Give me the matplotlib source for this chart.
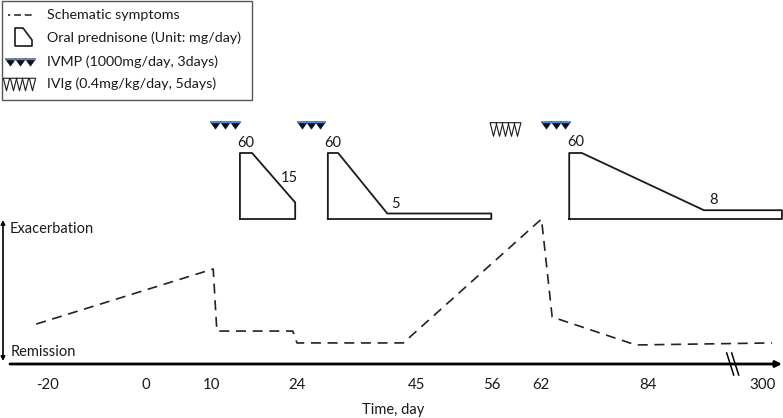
import numpy as np
import matplotlib
matplotlib.use('Agg')
import matplotlib.pyplot as plt
from matplotlib.transforms import Affine2D, blended_transform_factory
from matplotlib.patches import Rectangle, Polygon
from matplotlib.lines import Line2D

plt.rcParams['font.family'] = ['Lato', 'DejaVu Sans']

# ---- data (days on the time axis) ----
tick_days = [-20, 0, 10, 24, 45, 56, 62, 84, 300]
tick_labels = ['-20', '0', '10', '24', '45', '56', '62', '84', '300']

# schematic symptom level (0 = remission line)
symptom_days = [-22.4, 10.2, 10.8, 23.3, 24.0, 42.6, 62.1, 64.3, 81.5, 317]
symptom_level = [2.96, 7.04, 2.44, 2.44, 1.56, 1.56, 10.74, 3.48, 1.41, 1.56]

# oral prednisone courses (mg/day)
pred1_days = [14.6, 14.6, 16.6, 23.7, 23.7]
pred1_dose = [0, 60, 60, 15, 0]
pred2_days = [29.4, 29.4, 31.2, 39.8, 55.9, 55.9]
pred2_dose = [0, 60, 60, 5, 5, 0]
pred3_days = [67.8, 67.8, 70.4, 189, 335.5, 335.5]
pred3_dose = [0, 60, 60, 8, 8, 0]

ivmp_days = [10.5, 12.1, 13.8, 24.8, 26.5, 28.1, 63.1, 65.0, 66.9]
ivig_days = [56.1, 56.9, 57.6, 58.3, 59.1]
break_days = [231.8, 241.2]

# ---- layout ----
W, H = 783, 418
tick_px = [48, 146, 212, 297, 417, 492, 541, 648, 763]  # time axis is not linear
axis_px = 364          # pixel row of the time axis
unit_px = 13.5         # pixels per symptom unit
ink = '#1a1a1a'


def _interp(v, xs, ys):
    v = np.asarray(v, dtype=float)
    flat = np.atleast_1d(v).ravel()
    out = np.interp(flat, xs, ys)
    lo = flat < xs[0]
    hi = flat > xs[-1]
    out[lo] = ys[0] + (flat[lo] - xs[0]) * (ys[1] - ys[0]) / (xs[1] - xs[0])
    out[hi] = ys[-1] + (flat[hi] - xs[-1]) * (ys[-1] - ys[-2]) / (xs[-1] - xs[-2])
    return out.reshape(v.shape)


def fwd(d):
    return _interp(d, tick_days, tick_px)


def inv(p):
    return _interp(p, tick_px, tick_days)


fig = plt.figure(figsize=(W / 100, H / 100), dpi=100)
px = Affine2D().scale(1 / W, -1 / H).translate(0, 1) + fig.transFigure

ax = fig.add_axes([0, 0, 1, 1])
ax.set_xscale('function', functions=(fwd, inv))
ax.set_xlim(float(inv(0)), float(inv(W)))
ax.set_ylim(-(H - axis_px) / unit_px, axis_px / unit_px)
ax.axis('off')
xpx = blended_transform_factory(ax.transData, px)

# prednisone axes
ax2 = fig.add_axes([0, (H - 219) / H, 1, 66 / H])
ax2.set_xscale('function', functions=(fwd, inv))
ax2.set_xlim(float(inv(0)), float(inv(W)))
ax2.set_ylim(0, 60)
ax2.axis('off')

# symptoms
ax.plot(symptom_days, symptom_level, color='#222222', lw=1.2, ls=(0, (6, 4)))

# time axis
ax.annotate('', xy=(float(inv(782)), 0), xytext=(float(inv(10)), 0),
            arrowprops=dict(arrowstyle='-|>', lw=2, color='black',
                            mutation_scale=9, shrinkA=0, shrinkB=0))
for d in break_days:
    ax.plot([d, float(inv(float(fwd(d)) + 7))], [353, 375], color='black',
            lw=1.1, transform=xpx)
for d, lab in zip(tick_days, tick_labels):
    ax.text(d, 385, lab, transform=xpx, ha='center', va='center',
            fontsize=10.8, color=ink)

# severity arrow
ax.annotate('', xy=(3, 220), xytext=(3, 361), xycoords=px, textcoords=px,
            arrowprops=dict(arrowstyle='<|-|>', lw=1.2, color='black',
                            mutation_scale=6, shrinkA=0, shrinkB=0))
fig.text(10, 229, 'Exacerbation', transform=px, ha='left', va='center',
         fontsize=10.5, color=ink)
fig.text(11, 352, 'Remission', transform=px, ha='left', va='center',
         fontsize=10.5, color=ink)
fig.text(393, 410, 'Time, day', transform=px, ha='center', va='center',
         fontsize=10.5, color=ink)

# prednisone courses
for dd, dose in [(pred1_days, pred1_dose), (pred2_days, pred2_dose),
                 (pred3_days, pred3_dose)]:
    ax2.plot(dd + dd[:1], dose + dose[:1], color=ink, lw=1.3,
             solid_joinstyle='round', clip_on=False)

lab_kw = dict(textcoords='offset points', ha='center', va='center',
              fontsize=10.5, color=ink, annotation_clip=False)
ax2.annotate('60', ((pred1_days[1] + pred1_days[2]) / 2, 60), xytext=(0, 7), **lab_kw)
ax2.annotate('15', (pred1_days[3], pred1_dose[3]), xytext=(-4, 18), **lab_kw)
ax2.annotate('60', ((pred2_days[1] + pred2_days[2]) / 2, 60), xytext=(0, 7), **lab_kw)
ax2.annotate('5', (pred2_days[3], pred2_dose[3]), xytext=(6, 7), **lab_kw)
ax2.annotate('60', ((pred3_days[1] + pred3_days[2]) / 2, 60), xytext=(0, 8), **lab_kw)
ax2.annotate('8', (pred3_days[3], pred3_dose[3]), xytext=(7, 7), **lab_kw)

# pulse markers
tri = [(-1, 0.7), (1, 0.7), (0, -0.7), (-1, 0.7)]
slim = [(-0.5, 1), (0.5, 1), (0, -1), (-0.5, 1)]
ax.plot(ivmp_days, [124.5] * len(ivmp_days), ls='none', marker=tri, ms=7.5,
        mfc='#0b0f1e', mec='#0b0f1e', mew=0.4, transform=xpx)
ax.plot(ivmp_days, [121.5] * len(ivmp_days), ls='none', marker='_', ms=7.5,
        mec='#4a8ad0', mew=1.0, transform=xpx)
ax.plot(ivig_days, [128.5] * len(ivig_days), ls='none', marker=slim, ms=9.8,
        mfc='white', mec=ink, mew=0.8, transform=xpx)

# legend box
fig.patches.append(Rectangle((2, 1), 250, 99, transform=px, fill=False,
                             ec='#555555', lw=1.0))
fig.lines.append(Line2D([8, 35], [15, 15], transform=px, color=ink, lw=1.1,
                        ls=(3, (4.5, 2.5))))
fig.patches.append(Polygon([(15, 28), (23, 28), (32, 40), (32, 46), (15, 46)],
                           closed=True, fill=False, ec=ink, lw=1.2,
                           joinstyle='round', transform=px))
fig.lines.append(Line2D([10, 20, 30], [62, 62, 62], transform=px, ls='none',
                        marker=tri, ms=7.5, mfc='#0b0f1e', mec='#0b0f1e', mew=0.4))
fig.lines.append(Line2D([10, 20, 30], [59, 59, 59], transform=px, ls='none',
                        marker='_', ms=7.5, mec='#4a8ad0', mew=1.0))
fig.lines.append(Line2D([6.2, 12.6, 19, 25.4, 31.8], [84] * 5, transform=px,
                        ls='none', marker=slim, ms=9, mfc='white', mec=ink, mew=0.8))
legend_labels = ['Schematic symptoms', 'Oral prednisone (Unit: mg/day)',
                 'IVMP (1000mg/day, 3days)', 'IVIg (0.4mg/kg/day, 5days)']
for yy, lab in zip([15, 38, 62, 84], legend_labels):
    fig.text(47, yy, lab, transform=px, ha='left', va='center',
             fontsize=10.3, color=ink)

fig.savefig('out.png', dpi=100)
